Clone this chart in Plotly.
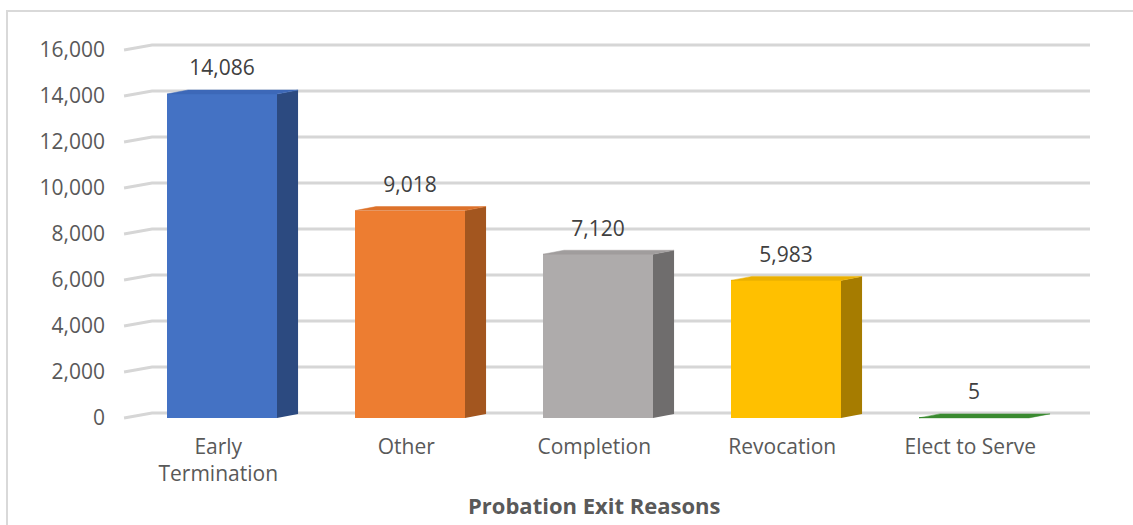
import plotly.graph_objects as go

categories = ["Early Termination", "Other", "Completion", "Revocation", "Elect to Serve"]
tick_text = ["Early<br>Termination", "Other", "Completion", "Revocation", "Elect to Serve"]
values = [14086, 9018, 7120, 5983, 5]
front_colors = ["#4472C4", "#ED7D31", "#AEABAB", "#FFC000", "#3A8A30"]
side_colors = ["#2C4A80", "#A3561F", "#6F6D6D", "#A67C00", "#2A6A22"]
top_colors = ["#3D68B8", "#DD722B", "#A09D9D", "#EBB000", "#3A8A30"]
y_ticks = list(range(0, 16001, 2000))
axis_title = "Probation Exit Reasons"

# 3D look parameters (in axis units)
bar_w = 0.585          # front face width (category units)
depth_dx = 0.112       # depth offset of bar, x units
depth_dy = 174         # depth offset of bar, value units
wall_dx = 0.149        # gridline slant, x units
wall_dy = 217          # gridline slant, value units
grid_x0 = -0.521
grid_x1 = 4.617
label_gap = 1040

xs = list(range(len(categories)))

fig = go.Figure()

# gridlines (back wall with slanted left end), drawn below the traces
shapes = []
for v in y_ticks:
    shapes.append(dict(
        type="path", xref="x", yref="y", layer="below",
        path=f"M {grid_x0},{v} L {grid_x0 + wall_dx},{v + wall_dy} L {grid_x1},{v + wall_dy}",
        line=dict(color="#D6D6D6", width=3)))

# side and top faces
for i, v in enumerate(values):
    xr = xs[i] + bar_w / 2
    xl = xs[i] - bar_w / 2
    fig.add_trace(go.Scatter(
        x=[xr, xr + depth_dx, xr + depth_dx, xr, xr],
        y=[0, depth_dy, v + depth_dy, v, 0],
        mode="lines", fill="toself", fillcolor=side_colors[i],
        line=dict(width=0, color=side_colors[i]),
        hoverinfo="skip", showlegend=False))
    fig.add_trace(go.Scatter(
        x=[xl, xr, xr + depth_dx, xl + depth_dx, xl],
        y=[v, v, v + depth_dy, v + depth_dy, v],
        mode="lines", fill="toself", fillcolor=top_colors[i],
        line=dict(width=0.5, color=top_colors[i]),
        hoverinfo="skip", showlegend=False))

# data labels
fig.add_trace(go.Scatter(
    x=xs, y=[v + label_gap for v in values],
    mode="text", text=[f"{v:,}" for v in values],
    textposition="middle center",
    textfont=dict(family="Open Sans", size=21, color="#404040"),
    hoverinfo="skip", showlegend=False))

# front faces
fig.add_trace(go.Bar(
    x=xs, y=values, width=bar_w,
    marker=dict(color=front_colors, line=dict(width=0)),
    showlegend=False, hovertext=categories))

px_left, px_right, px_top, px_bottom = 120, 1095, 40, 425

shapes.append(dict(
    type="rect", xref="paper", yref="paper",
    x0=(7 - px_left) / (px_right - px_left), x1=1.2,
    y0=-0.5, y1=(px_bottom - 11) / (px_bottom - px_top),
    line=dict(color="#D9D9D9", width=2), fillcolor="rgba(0,0,0,0)",
    layer="below"))

fig.update_layout(
    width=1133, height=525,
    margin=dict(l=px_left, r=1133 - px_right, t=px_top, b=525 - px_bottom),
    paper_bgcolor="white", plot_bgcolor="white",
    font=dict(family="Open Sans", color="#595959"),
    bargap=0,
    xaxis=dict(
        range=[-0.5426, 4.6436], tickmode="array", tickvals=[x - 0.02 for x in xs],
        ticktext=tick_text, showgrid=False, zeroline=False, showline=False,
        ticks="", tickfont=dict(size=21, color="#595959"),
        ticklabelstandoff=7, fixedrange=True),
    yaxis=dict(
        range=[-304.3, 16434.8], tickmode="array", tickvals=y_ticks,
        tickformat=",d", showgrid=False, zeroline=False, showline=False,
        ticks="", tickfont=dict(size=21, color="#595959"),
        ticklabelstandoff=14, fixedrange=True),
    annotations=[dict(
        text="<b>" + axis_title + "</b>", x=2 - 0.02, xref="x",
        y=(px_bottom - 505) / (px_bottom - px_top), yref="paper",
        showarrow=False, font=dict(family="Open Sans", size=22, color="#595959"),
        xanchor="center", yanchor="middle")],
    shapes=shapes,
)

fig.write_html("out.html")
